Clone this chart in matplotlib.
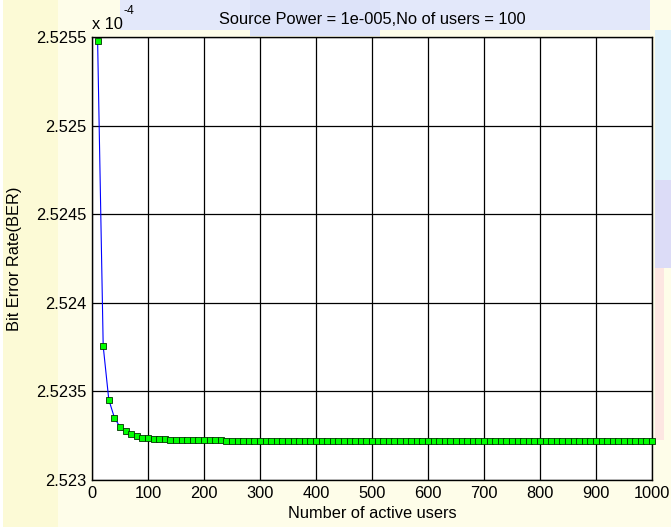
import matplotlib
matplotlib.use("Agg")
import matplotlib.pyplot as plt
from matplotlib.patches import Rectangle
from matplotlib.ticker import FormatStrFormatter, FuncFormatter

# number of active users
users = [10, 20, 30, 40, 50, 60, 70, 80, 90, 100,
         110, 120, 130, 140, 150, 160, 170, 180, 190, 200,
         210, 220, 230, 240, 250, 260, 270, 280, 290, 300,
         310, 320, 330, 340, 350, 360, 370, 380, 390, 400,
         410, 420, 430, 440, 450, 460, 470, 480, 490, 500,
         510, 520, 530, 540, 550, 560, 570, 580, 590, 600,
         610, 620, 630, 640, 650, 660, 670, 680, 690, 700,
         710, 720, 730, 740, 750, 760, 770, 780, 790, 800,
         810, 820, 830, 840, 850, 860, 870, 880, 890, 900,
         910, 920, 930, 940, 950, 960, 970, 980, 990, 1000]

# bit error rate, in units of 1e-4
ber = [2.52548, 2.523755, 2.523453, 2.523352, 2.523299, 2.523275, 2.523261, 2.523247, 2.523239, 2.523236,
       2.523232, 2.523232, 2.523231, 2.523226, 2.523226, 2.523226, 2.523226, 2.523226, 2.523226, 2.523226,
       2.523226, 2.523226, 2.523226, 2.523218, 2.523218, 2.523218, 2.523218, 2.523218, 2.523218, 2.523218,
       2.523218, 2.523218, 2.523218, 2.523218, 2.523218, 2.523218, 2.523218, 2.523218, 2.523218, 2.523218,
       2.523218, 2.523218, 2.523218, 2.523218, 2.523218, 2.523218, 2.523218, 2.523218, 2.523218, 2.523218,
       2.523218, 2.523218, 2.523218, 2.523218, 2.523218, 2.523218, 2.523218, 2.523218, 2.523218, 2.523218,
       2.523218, 2.523218, 2.523218, 2.523218, 2.523218, 2.523218, 2.523218, 2.523218, 2.523218, 2.523218,
       2.523218, 2.523218, 2.523218, 2.523218, 2.523218, 2.523218, 2.523218, 2.523218, 2.523218, 2.523218,
       2.523218, 2.523218, 2.523218, 2.523218, 2.523218, 2.523218, 2.523218, 2.523218, 2.523218, 2.523218,
       2.523218, 2.523218, 2.523218, 2.523218, 2.523218, 2.523218, 2.523218, 2.523218, 2.523218, 2.523218]

x_ticks = [0, 100, 200, 300, 400, 500, 600, 700, 800, 900, 1000]
y_ticks = [2.523, 2.5235, 2.524, 2.5245, 2.525, 2.5255]

FS = 11.8
plt.rcParams["font.family"] = ["Liberation Sans", "DejaVu Sans"]
plt.rcParams["font.size"] = FS

W, H = 671, 527
fig = plt.figure(figsize=(W / 100, H / 100), dpi=100, facecolor="#fefde9")

# slide-like background behind the figure
bg = fig.add_axes([0, 0, 1, 1], zorder=-1)
bg.set_xlim(0, W); bg.set_ylim(H, 0); bg.axis("off")
bg.add_patch(Rectangle((3, 0), 55, H, color="#fcfad6", lw=0))
bg.add_patch(Rectangle((120, 0), 530, 30, color="#e3e8fa", lw=0))
bg.add_patch(Rectangle((250, 0), 130, 36, color="#dde3f9", lw=0))
bg.add_patch(Rectangle((655, 30), 16, 150, color="#e0f2fb", lw=0))
bg.add_patch(Rectangle((655, 180), 16, 88, color="#dcdcf7", lw=0))
bg.add_patch(Rectangle((655, 268), 9, 172, color="#fde6e2", lw=0))
bg.add_patch(Rectangle((0, 0), 3, H, color="white", lw=0))

ax = fig.add_axes([92 / W, 1 - 480 / H, (652 - 92) / W, (480 - 37) / H])
ax.set_facecolor("white")
ax.plot(users, ber, "-", color="#0000ff", lw=0.8, zorder=3)
ax.plot(users, ber, "s", ms=4.0, mfc="#00ff00", mec="#003300", mew=0.6,
        zorder=4, clip_on=False)

ax.set_xlim(0, 1000)
ax.set_ylim(2.523, 2.5255)
ax.set_xticks(x_ticks)
ax.set_yticks(y_ticks)
ax.yaxis.set_major_formatter(FuncFormatter(lambda v, p: f"{v:.4f}".rstrip("0")))
ax.xaxis.set_major_formatter(FormatStrFormatter("%d"))
ax.grid(True, color="black", lw=0.9, ls="-")
ax.set_axisbelow(True)
ax.tick_params(direction="in", length=0, pad=4, labelsize=FS)
for s in ax.spines.values():
    s.set_linewidth(1.0)
    s.set_color("black")

ax.set_title("Source Power = 1e-005,No of users = 100", fontsize=FS, pad=9)
ax.set_xlabel("Number of active users", fontsize=FS, labelpad=4)
ax.set_ylabel("Bit Error Rate(BER)", fontsize=FS, labelpad=10)
# MATLAB-style exponent label above the y axis
ax.text(0, 1.012, "x 10", transform=ax.transAxes, fontsize=FS,
        ha="left", va="bottom")
ax.text(0.056, 1.045, "-4", transform=ax.transAxes, fontsize=FS * 0.75,
        ha="left", va="bottom")

fig.savefig("out.png", dpi=100, facecolor=fig.get_facecolor())
